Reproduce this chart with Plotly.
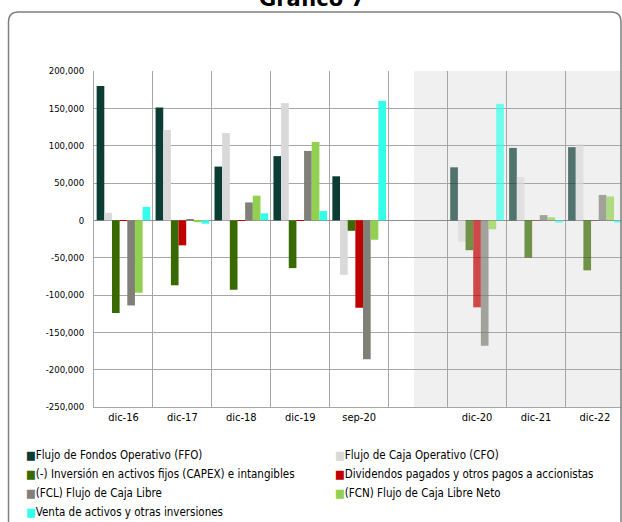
import plotly.graph_objects as go

categories = ["dic-16", "dic-17", "dic-18", "dic-19", "sep-20", " ", "dic-20", "dic-21", "dic-22"]
projected = [False, False, False, False, False, False, True, True, True]

series_names = [
    "Flujo de Fondos Operativo (FFO)",
    "Flujo de Caja Operativo (CFO)",
    "(-) Inversión en activos fijos (CAPEX) e intangibles",
    "Dividendos pagados y otros pagos a accionistas",
    "(FCL) Flujo de Caja Libre",
    "(FCN) Flujo de Caja Libre Neto",
    "Venta de activos y otras inversiones",
]

ffo = [180000, 151000, 72000, 86000, 59000, None, 71000, 97000, 98000]
cfo = [10000, 121000, 117000, 157000, -73000, None, -28500, 58000, 102000]
capex = [-124000, -87000, -93000, -64000, -14000, None, -40000, -50000, -67000]
dividendos = [-800, -33500, -600, -600, -117000, None, -116500, -500, -500]
fcl = [-114000, 1500, 24000, 93000, -186000, None, -168000, 7000, 34000]
fcn = [-97000, -2500, 33000, 105000, -26000, None, -12000, 4000, 32000]
venta = [18000, -4500, 9500, 12500, 160000, None, 156000, -3000, -3000]

series_values = [ffo, cfo, capex, dividendos, fcl, fcn, venta]
series_colors = ["#0b3d35", "#d9d9d9", "#386a00", "#c00000", "#808078", "#92d050", "#33ffea"]

y_tickvals = [200000, 150000, 100000, 50000, 0, -50000, -100000, -150000, -200000, -250000]
y_ticktext = ["200,000", "150,000", "100,000", "50,000", "0", "-50,000", "-100,000",
              "-150,000", "-200,000", "-250,000"]

FONT = "DejaVu Sans Condensed, DejaVu Sans, sans-serif"

# the page body margin is removed below, so layout px == on-screen px
OFF = 0
# plot area in layout px
L, R, T, B = 94, 622, 71, 407


def px_x(p):  # p in on-screen px
    return (p - OFF - L) / (R - L)


def px_y(p):
    return (B - (p - OFF)) / (B - T)


def rgba(hexc, a):
    h = hexc.lstrip("#")
    r, g, b = int(h[0:2], 16), int(h[2:4], 16), int(h[4:6], 16)
    return f"rgba({r},{g},{b},{a})"


fig = go.Figure()
for i, (name, vals, col) in enumerate(zip(series_names, series_values, series_colors)):
    cols = [rgba(col, 0.7) if p else col for p in projected]
    fig.add_trace(go.Bar(
        x=categories, y=vals, name=name, showlegend=False,
        marker=dict(color=cols, line=dict(width=0)),
    ))
# legend entries: two columns, swatch drawn as a coloured square glyph
for i, (name, col) in enumerate(zip(series_names, series_colors)):
    fig.add_trace(go.Scatter(
        x=[None], y=[None], mode="markers",
        name=f"<span style='color:{col}'>■</span>{name}",
        legend="legend" if i % 2 == 0 else "legend2",
        legendgroup=f"g{i}",
        marker=dict(color="rgba(0,0,0,0)", size=1),
        hoverinfo="skip",
    ))

# shaded projection background
fig.add_shape(type="rect", xref="x", yref="paper", x0=4.93, x1=9, y0=0, y1=1,
              fillcolor="#f0f0f0", line=dict(width=0), layer="below")

# rounded outer frame
l, t, r, b, rad = 8.5, 12, 621, 560, 10
path = (f"M {px_x(l)},{px_y(b)} L {px_x(l)},{px_y(t + rad)} "
        f"Q {px_x(l)},{px_y(t)} {px_x(l + rad)},{px_y(t)} "
        f"L {px_x(r - rad)},{px_y(t)} Q {px_x(r)},{px_y(t)} {px_x(r)},{px_y(t + rad)} "
        f"L {px_x(r)},{px_y(b)}")
fig.add_shape(type="path", xref="paper", yref="paper", path=path,
              line=dict(color="#7f7f7f", width=1.5), layer="above")

fig.add_annotation(text="<b>Gráfico 7</b>", xref="paper", yref="paper",
                   x=px_x(312), y=px_y(-1), xanchor="center", yanchor="middle",
                   showarrow=False, font=dict(family="DejaVu Sans, sans-serif", size=21, color="#000000"))

legend_common = dict(orientation="v", xanchor="left", yanchor="top", traceorder="normal",
                     tracegroupgap=1, font=dict(family=FONT, size=11.5, color="#000000"),
                     bgcolor="rgba(0,0,0,0)", itemclick=False, itemdoubleclick=False)

fig.update_layout(
    width=622, height=522,
    margin=dict(l=L, r=622 - R, t=T, b=522 - B, autoexpand=False),
    paper_bgcolor="#ffffff", plot_bgcolor="rgba(0,0,0,0)",
    barmode="group", bargap=0.09, bargroupgap=0,
    font=dict(family=FONT, size=11, color="#000000"),
    showlegend=True,
    legend=dict(x=px_x(-14), y=px_y(440), **legend_common),
    legend2=dict(x=px_x(295), y=px_y(440), **legend_common),
    xaxis=dict(type="category", categoryorder="array", categoryarray=categories,
               range=[-0.5, 8.46], tickson="boundaries", showgrid=True,
               gridcolor="#a6a6a6", gridwidth=1, ticks="", showline=True,
               linecolor="#a6a6a6", linewidth=1, zeroline=False,
               tickfont=dict(family=FONT, size=11, color="#000000")),
    yaxis=dict(range=[-250000, 200000], tickmode="array", tickvals=y_tickvals,
               ticktext=y_ticktext, showgrid=True, gridcolor="#a6a6a6", gridwidth=1,
               zeroline=True, zerolinecolor="#8c8c8c", zerolinewidth=1,
               showline=True, linecolor="#a6a6a6", linewidth=1, ticks="",
               ticklabelstandoff=7,
               tickfont=dict(family=FONT, size=9.5, color="#000000")),
)

# remove the page's default body margin so the figure fills the window exactly
post_js = "document.body.style.margin='0';"
fig.write_html("out.html", post_script=post_js, config={"displayModeBar": False})
